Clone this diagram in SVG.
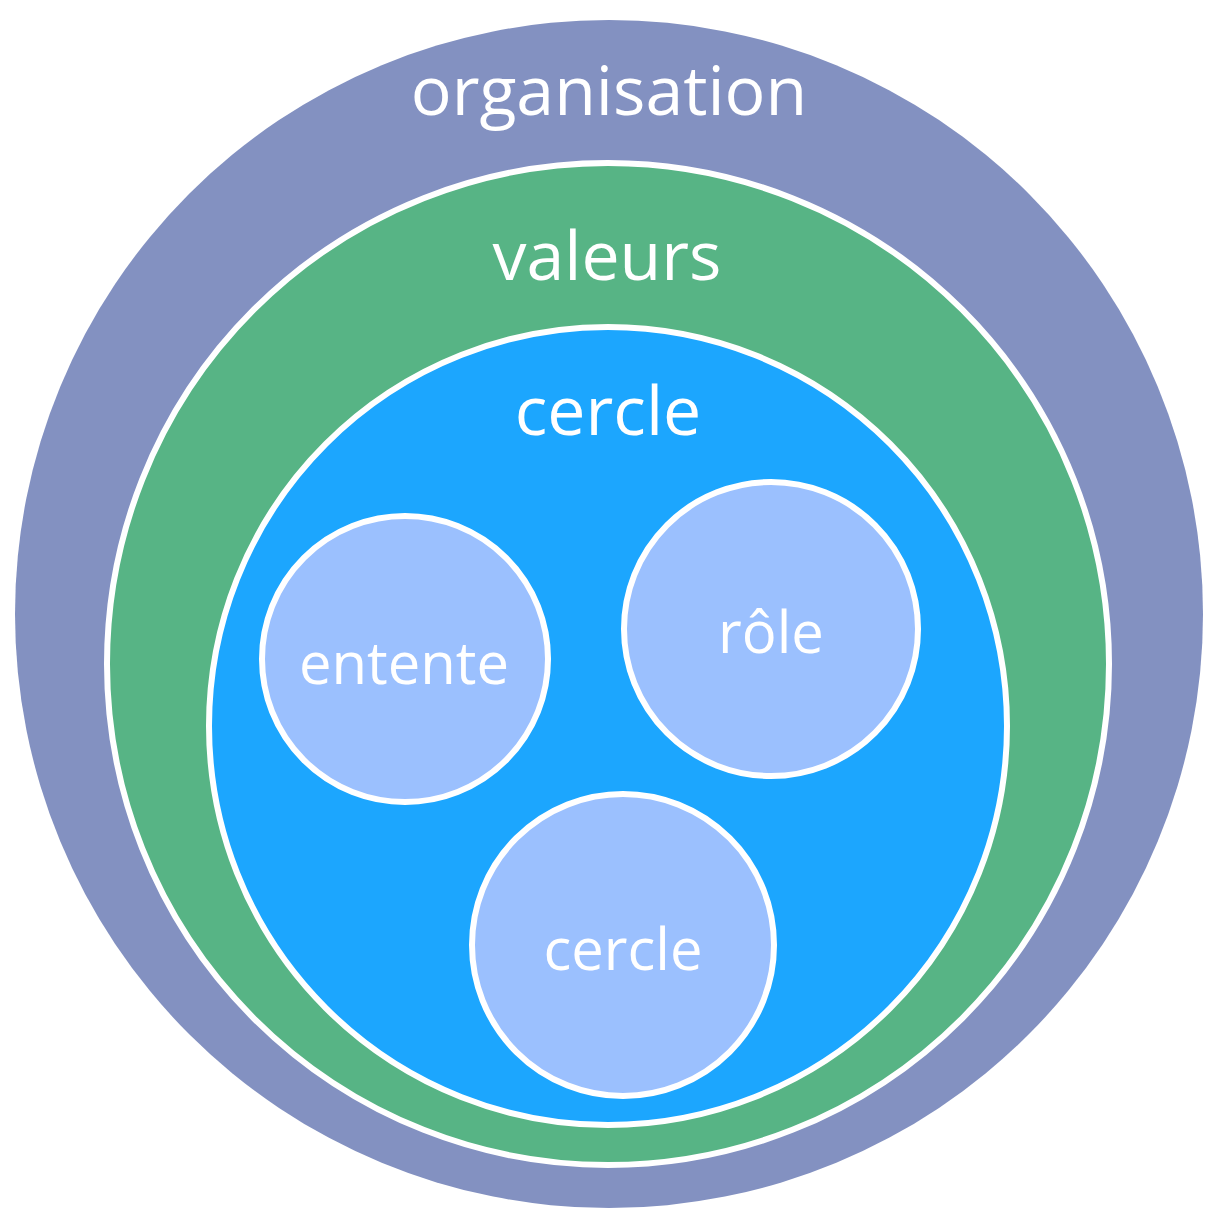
<svg xmlns="http://www.w3.org/2000/svg" width="1224" height="1224" viewBox="0 0 1224 1224">
<style>
.c{stroke:#fff;stroke-width:6}
text{font-family:"Open Sans","Noto Sans",sans-serif;fill:#fff;text-anchor:middle}
</style>
<rect width="1224" height="1224" fill="#fff"/>
<g id="organisation">
<circle cx="609" cy="614" r="594" fill="#8391C1"/>
<text x="609" y="115" font-size="68">organisation</text>
</g>
<g id="valeurs">
<circle class="c" cx="608" cy="664" r="501" fill="#57B485"/>
<text x="607" y="280" font-size="68">valeurs</text>
</g>
<g id="cercle-main">
<circle class="c" cx="608" cy="726" r="399" fill="#1CA6FE"/>
<text x="608" y="435" font-size="68">cercle</text>
</g>
<g id="entente">
<circle class="c" cx="405" cy="659" r="143" fill="#9BC0FE"/>
<text x="404" y="684" font-size="58">entente</text>
</g>
<g id="role">
<circle class="c" cx="771" cy="629" r="147" fill="#9BC0FE"/>
<text x="771" y="653" font-size="58">rôle</text>
</g>
<g id="cercle-sub">
<circle class="c" cx="623" cy="945" r="151" fill="#9BC0FE"/>
<text x="623" y="970" font-size="58">cercle</text>
</g>
<g id="connectors"/>
</svg>
